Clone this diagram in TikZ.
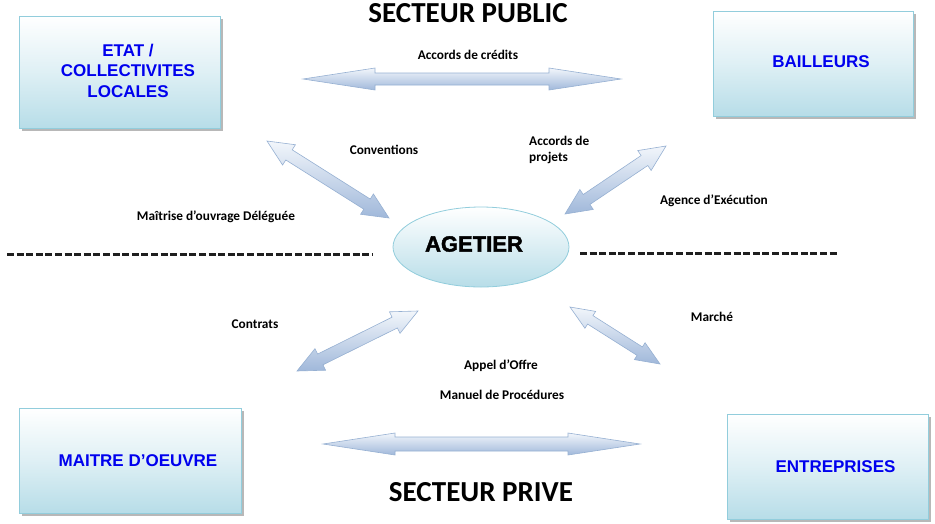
\documentclass[tikz,border=0pt]{standalone}
\usepackage{fontspec}
\setmainfont{Carlito}
\newfontfamily\arialfont{Liberation Sans}
\newfontfamily\arialheavy{Liberation Sans}[FakeBold=2]
\usetikzlibrary{calc,shadows,shapes.geometric}
\definecolor{boxborder}{RGB}{146,205,220}
\definecolor{boxbottom}{RGB}{183,221,232}
\definecolor{arrowdark}{RGB}{160,184,218}
\definecolor{arrowlight}{RGB}{242,246,251}
\definecolor{arrowline}{RGB}{150,176,210}
\definecolor{boxblue}{RGB}{0,0,238}
\newcommand\dblarrow[5]{%
 \path[arrowbody] (#1)
 -- ($(#1)!#5!(#2)!#4!90:(#2)$)
 -- ($(#1)!#5!(#2)!#3!90:(#2)$)
 -- ($(#2)!#5!(#1)!#3!-90:(#1)$)
 -- ($(#2)!#5!(#1)!#4!-90:(#1)$)
 -- (#2)
 -- ($(#2)!#5!(#1)!#4!90:(#1)$)
 -- ($(#2)!#5!(#1)!#3!90:(#1)$)
 -- ($(#1)!#5!(#2)!#3!-90:(#2)$)
 -- ($(#1)!#5!(#2)!#4!-90:(#2)$)
 -- cycle;}
\tikzset{
 box/.style={draw=boxborder, line width=0.8pt, top color=white, bottom color=boxbottom,
   middle color=boxbottom!45, drop shadow={shadow xshift=2.5pt, shadow yshift=-2.5pt, fill=black!35, opacity=0.8},
   inner sep=0pt},
 boxtext/.style={text=boxblue, font=\arialfont\bfseries\fontsize{17}{20.5}\selectfont, align=center},
 lbl/.style={font=\bfseries\fontsize{13.3}{16}\selectfont, text=black, inner sep=0pt},
 sect/.style={font=\bfseries\fontsize{29}{32}\selectfont, text=black, inner sep=0pt},
 arrowbody/.style={draw=arrowline, line width=0.6pt, top color=arrowlight, bottom color=arrowdark},
 dashline/.style={line width=3pt, dash pattern=on 7pt off 2.6pt, color=black!88}
}
\begin{document}
\begin{tikzpicture}[x=1pt,y=-1pt]
\useasboundingbox (0,0) rectangle (935,523);
% boxes
\node[box, minimum width=201pt, minimum height=112pt] (etat) at (119.5,72) {};
\node[boxtext] (etatt) at ($(etat.center)+(8.5,-1.5)$) {ETAT /\\COLLECTIVITES\\LOCALES};
\node[box, minimum width=200pt, minimum height=105pt] (bail) at (813,63.5) {};
\node[boxtext] (bailt) at ($(bail.center)+(8,-1.5)$) {BAILLEURS};
\node[box, minimum width=222pt, minimum height=105pt] (moe) at (130,460.5) {};
\node[boxtext] (moet) at ($(moe.center)+(8,0)$) {MAITRE D’OEUVRE};
\node[box, minimum width=201pt, minimum height=105pt] (ent) at (827.5,466.5) {};
\node[boxtext] (entt) at ($(ent.center)+(8,0)$) {ENTREPRISES};
% ellipse
\node[ellipse, draw=boxborder, line width=0.8pt, top color=white, bottom color=boxbottom,
  minimum width=176pt, minimum height=80pt, inner sep=0pt] (age) at (481,247) {};
\node[font=\arialheavy\bfseries\fontsize{22}{26}\selectfont, inner sep=0pt] (aget) at (474,244) {AGETIER};
% titles
\node[sect] (pub) at (468,13) {SECTEUR PUBLIC};
\node[sect] (priv) at (481,492) {SECTEUR PRIVE};
% dashed lines
\coordinate (dl1) at (7,254);
\coordinate (dl2) at (372,254);
\coordinate (dr1) at (580,253);
\coordinate (dr2) at (838,253);
\draw[dashline] (dl1) -- (dl2);
\draw[dashline] (dr1) -- (dr2);
% arrow end points
\coordinate (t1) at (303,79);
\coordinate (t2) at (621,79);
\coordinate (b1) at (323,444);
\coordinate (b2) at (640,444);
\coordinate (e1) at (267,141);
\coordinate (e2) at (389,218);
\coordinate (f1) at (666,146);
\coordinate (f2) at (565,214);
\coordinate (m1) at (297,371);
\coordinate (m2) at (418,311);
\coordinate (n1) at (570,307);
\coordinate (n2) at (660,364);
\dblarrow{t1}{t2}{6pt}{11pt}{72pt}
\dblarrow{b1}{b2}{7pt}{11pt}{72pt}
\dblarrow{e1}{e2}{6pt}{12pt}{26pt}
\dblarrow{f1}{f2}{6pt}{12pt}{26pt}
\dblarrow{m1}{m2}{6pt}{12pt}{26pt}
\dblarrow{n1}{n2}{5pt}{10pt}{24pt}
% labels
\node[lbl] (l1) at (468,55) {Accords de crédits};
\node[lbl] (l2) at (384,150) {Conventions};
\node[lbl] (l3) at (216,217) {Maîtrise d’ouvrage Déléguée};
\node[lbl, align=left, anchor=west, text depth=0pt] (l4) at (529,149) {Accords de\\projets};
\node[lbl] (l5) at (714,201) {Agence d’Exécution};
\node[lbl] (l6) at (255,324) {Contrats};
\node[lbl] (l7) at (712,317) {Marché};
\node[lbl] (l8) at (501,366) {Appel d’Offre};
\node[lbl] (l9) at (502,395) {Manuel de Procédures};
\end{tikzpicture}
\end{document}
